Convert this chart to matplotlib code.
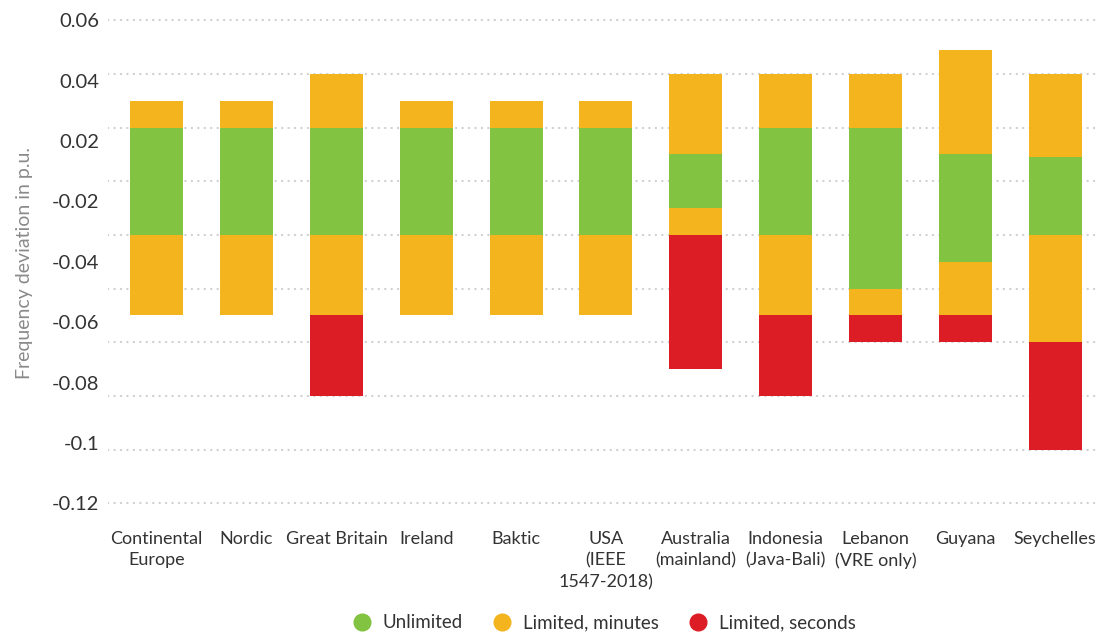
import numpy as np
import matplotlib.pyplot as plt
from matplotlib.lines import Line2D

plt.rcParams['font.family'] = ['Lato', 'DejaVu Sans']

# countries
countries = ['Continental\nEurope', 'Nordic', 'Great Britain', 'Ireland', 'Baktic',
             'USA\n(IEEE\n1547-2018)', 'Australia\n(mainland)', 'Indonesia\n(Java-Bali)',
             'Lebanon\n(VRE only)', 'Guyana', 'Seychelles']

# frequency deviation limits in p.u.
minutes_upper = [0.03, 0.03, 0.04, 0.03, 0.03, 0.03, 0.04, 0.04, 0.04, 0.049, 0.04]
unlimited_upper = [0.02, 0.02, 0.02, 0.02, 0.02, 0.02, 0.01, 0.02, 0.02, 0.01, 0.009]
unlimited_lower = [-0.02, -0.02, -0.02, -0.02, -0.02, -0.02, -0.01, -0.02, -0.04, -0.03, -0.02]
minutes_lower = [-0.05, -0.05, -0.05, -0.05, -0.05, -0.05, -0.02, -0.05, -0.05, -0.05, -0.06]
seconds_lower = [-0.05, -0.05, -0.08, -0.05, -0.05, -0.05, -0.07, -0.08, -0.06, -0.06, -0.1]

grid_values = [0.06, 0.04, 0.02, 0.0, -0.02, -0.04, -0.06, -0.08, -0.1, -0.12]
tick_labels = ['0.06', '0.04', '0.02', '-0.02', '-0.04', '-0.06', '-0.08', '-0.1', '-0.12']

green = '#82C341'
orange = '#F3B41D'
red = '#DD1D25'

fig = plt.figure(figsize=(11, 6.35), dpi=100)
ax = fig.add_axes([0.098, 0.1874, 0.902, 0.797])

x = np.arange(len(countries))
mu = np.array(minutes_upper)
uu = np.array(unlimited_upper)
ul = np.array(unlimited_lower)
ml = np.array(minutes_lower)
sl = np.array(seconds_lower)
w = 0.59

# stacked segments from bottom to top
ax.bar(x, ml - sl, bottom=sl, width=w, color=red, zorder=3)
ax.bar(x, ul - ml, bottom=ml, width=w, color=orange, zorder=3)
ax.bar(x, uu - ul, bottom=ul, width=w, color=green, zorder=3)
ax.bar(x, mu - uu, bottom=uu, width=w, color=orange, zorder=3)

ax.set_xlim(-0.545, 10.5)
ax.set_ylim(-0.1247, 0.0638)

# gridlines at the real values, labels spread evenly (as in the original)
ax.yaxis.remove_overlapping_locs = False
ax.set_yticks(grid_values)
ax.set_yticklabels([])
ax.set_yticks(np.linspace(0.06, -0.12, len(tick_labels)), minor=True)
ax.set_yticklabels(tick_labels, minor=True)
ax.tick_params(axis='y', which='both', length=0, pad=6)
ax.tick_params(axis='y', which='minor', labelsize=14.5, labelcolor='#333333')
ax.grid(True, axis='y', which='major', color='#cfcfcf', linewidth=1.6,
        linestyle=(0, (0.1, 2.8)), dash_capstyle='round', zorder=0)
ax.set_axisbelow(True)

ax.set_xticks(x)
ax.set_xticklabels(countries, fontsize=13, color='#333333', linespacing=1.4)
ax.tick_params(axis='x', length=0, pad=11)

for s in ax.spines.values():
    s.set_visible(False)

ax.set_ylabel('Frequency deviation in p.u.', fontsize=14, color='#8a8a8a', labelpad=14)

handles = [Line2D([], [], marker='o', linestyle='none', markersize=12, color=c)
           for c in (green, orange, red)]
ax.legend(handles, ['Unlimited', 'Limited, minutes', 'Limited, seconds'],
          loc='center', bbox_to_anchor=(0.5, -0.211), ncol=3, frameon=False,
          fontsize=13.5, handlelength=1.0, handletextpad=0.6, columnspacing=1.6,
          labelcolor='#333333')

fig.savefig('out.png', dpi=100)
